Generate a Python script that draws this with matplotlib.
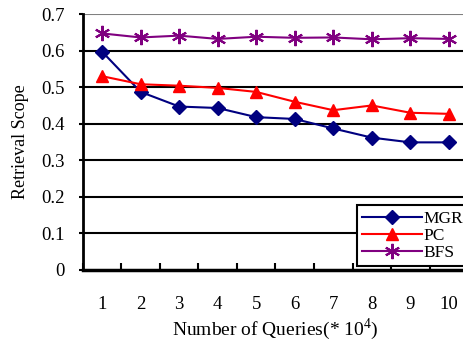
import matplotlib
matplotlib.use("Agg")
import matplotlib.pyplot as plt

plt.rcParams["font.family"] = ["Liberation Serif", "DejaVu Serif"]
plt.rcParams["mathtext.fontset"] = "custom"
plt.rcParams["mathtext.rm"] = "Liberation Serif"

queries = [1, 2, 3, 4, 5, 6, 7, 8, 9, 10]
mgr = [0.597, 0.487, 0.447, 0.443, 0.418, 0.413, 0.387, 0.362, 0.349, 0.349]
pc = [0.530, 0.508, 0.504, 0.498, 0.487, 0.460, 0.437, 0.450, 0.430, 0.427]
bfs = [0.647, 0.636, 0.641, 0.632, 0.638, 0.635, 0.636, 0.631, 0.634, 0.632]
yticks = [0, 0.1, 0.2, 0.3, 0.4, 0.5, 0.6, 0.7]
ylabels = ["0", "0.1", "0.2", "0.3", "0.4", "0.5", "0.6", "0.7"]

fig = plt.figure(figsize=(4.63, 3.43), dpi=100)
ax = fig.add_axes([0.179, 0.213, 0.832, 0.746])

for y in yticks[1:-1]:
    ax.axhline(y, color="black", linewidth=1.5, zorder=1)
ax.axhline(0.7, color="#808080", linewidth=1.5, zorder=1)

ax.plot(queries, mgr, color="#000080", marker="D", markersize=7, linewidth=1.5,
        label="MGR", zorder=3)
ax.plot(queries, pc, color="#FF0000", marker="^", markersize=9, linewidth=1.5,
        label="PC", zorder=3)
ax.plot(queries, bfs, color="#800080", marker=(6, 2, 0), markersize=11, linewidth=1.5,
        markeredgewidth=1.5, label="BFS", zorder=3)

ax.set_xlim(0.5, 10.5)
ax.set_ylim(0, 0.7)
ax.set_yticks(yticks)
ax.set_yticklabels(ylabels)
ax.set_xticks(queries)
ax.set_xticks([q - 0.5 for q in queries] + [10.5], minor=True)
ax.tick_params(axis="x", which="major", length=0, pad=19, labelsize=13.5)
ax.tick_params(axis="x", which="minor", length=5, width=1.5, direction="in")
ax.tick_params(axis="y", length=3, width=1.5, direction="out", pad=10, labelsize=13.5)

for side in ["top", "right"]:
    ax.spines[side].set_visible(False)
ax.spines["left"].set_linewidth(2)
ax.spines["bottom"].set_linewidth(2.5)

ax.set_xlabel(r"Number of Queries(* 10$^{4}$)", fontsize=14, labelpad=2)
ax.set_ylabel("Retrieval Scope", fontsize=13, labelpad=9)

leg = ax.legend(loc="lower right", bbox_to_anchor=(1.0, 0.015), fontsize=12.5,
                frameon=True, fancybox=False, edgecolor="black", framealpha=1,
                handlelength=3.4, handletextpad=0.1, borderpad=0.3,
                labelspacing=0.05, borderaxespad=0)
leg.get_frame().set_linewidth(1.5)
leg.set_zorder(5)

fig.savefig("out.png", dpi=100)
